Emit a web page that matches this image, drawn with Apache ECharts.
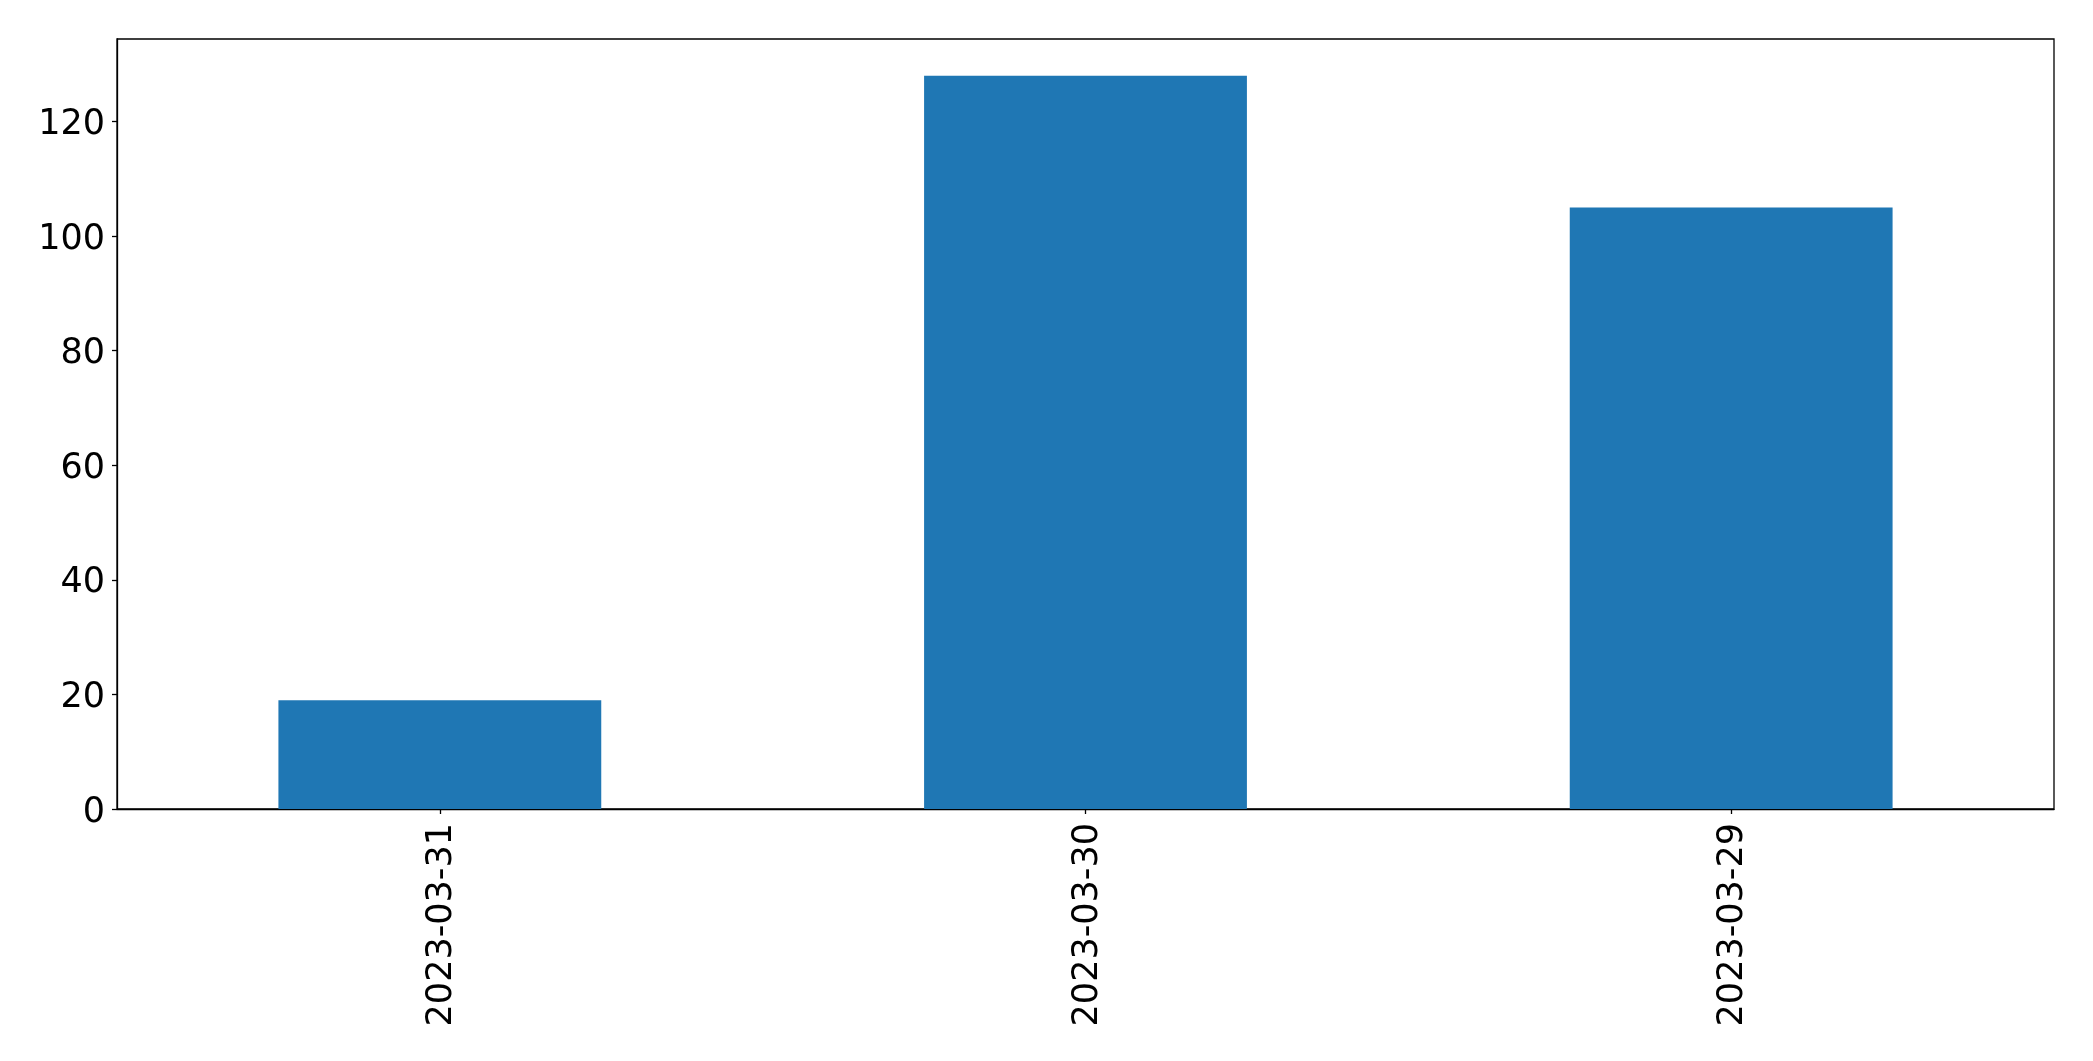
<!DOCTYPE html>
<html>
<head>
<meta charset="utf-8">
<script src="https://cdn.jsdelivr.net/npm/echarts@6/dist/echarts.min.js"></script>
<style>
html,body{margin:0;padding:0;background:#fff;}
#chart{width:2093px;height:1061px;}
</style>
</head>
<body>
<div id="chart"></div>
<script>
const categories = ['2023-03-31', '2023-03-30', '2023-03-29'];
const values = [19, 128, 105];
const yTicks = [0, 20, 40, 60, 80, 100, 120];

const chart = echarts.init(document.getElementById('chart'), null, {renderer: 'canvas'});
const font = 'DejaVu Sans';
chart.setOption({
  animation: false,
  backgroundColor: '#ffffff',
  grid: {
    left: 117, top: 39, right: 39, bottom: 252,
    show: true, borderColor: '#000000', borderWidth: 1.3, backgroundColor: 'transparent',
    containLabel: false
  },
  xAxis: {
    type: 'category',
    data: categories,
    axisLine: {show: true, lineStyle: {color: '#000', width: 1.3}},
    axisTick: {show: true, alignWithLabel: true, length: 5, lineStyle: {color: '#000', width: 1.3}},
    axisLabel: {
      rotate: 90, margin: 14, fontSize: 35, fontFamily: font, color: '#000',
      formatter: function (v) { return '{t|' + v + '}'; },
      rich: {t: {fontSize: 35, fontFamily: font, color: '#000', padding: [4, 0, 0, 0]}}
    },
    splitLine: {show: false}
  },
  yAxis: {
    type: 'value',
    min: 0,
    max: 134.4,
    interval: 20,
    axisLine: {show: true, lineStyle: {color: '#000', width: 1.3}},
    axisTick: {show: true, length: 5, lineStyle: {color: '#000', width: 1.3}, customValues: yTicks},
    axisLabel: {
      margin: 12, fontSize: 35, fontFamily: font, color: '#000', customValues: yTicks,
      formatter: function (v) { return '{t|' + v + '}'; },
      rich: {t: {fontSize: 35, fontFamily: font, color: '#000', padding: [7, 0, 0, 0]}}
    },
    splitLine: {show: false}
  },
  series: [{
    type: 'bar',
    data: values,
    barWidth: '50%',
    itemStyle: {color: '#1f77b4'}
  }]
});
</script>
</body>
</html>
